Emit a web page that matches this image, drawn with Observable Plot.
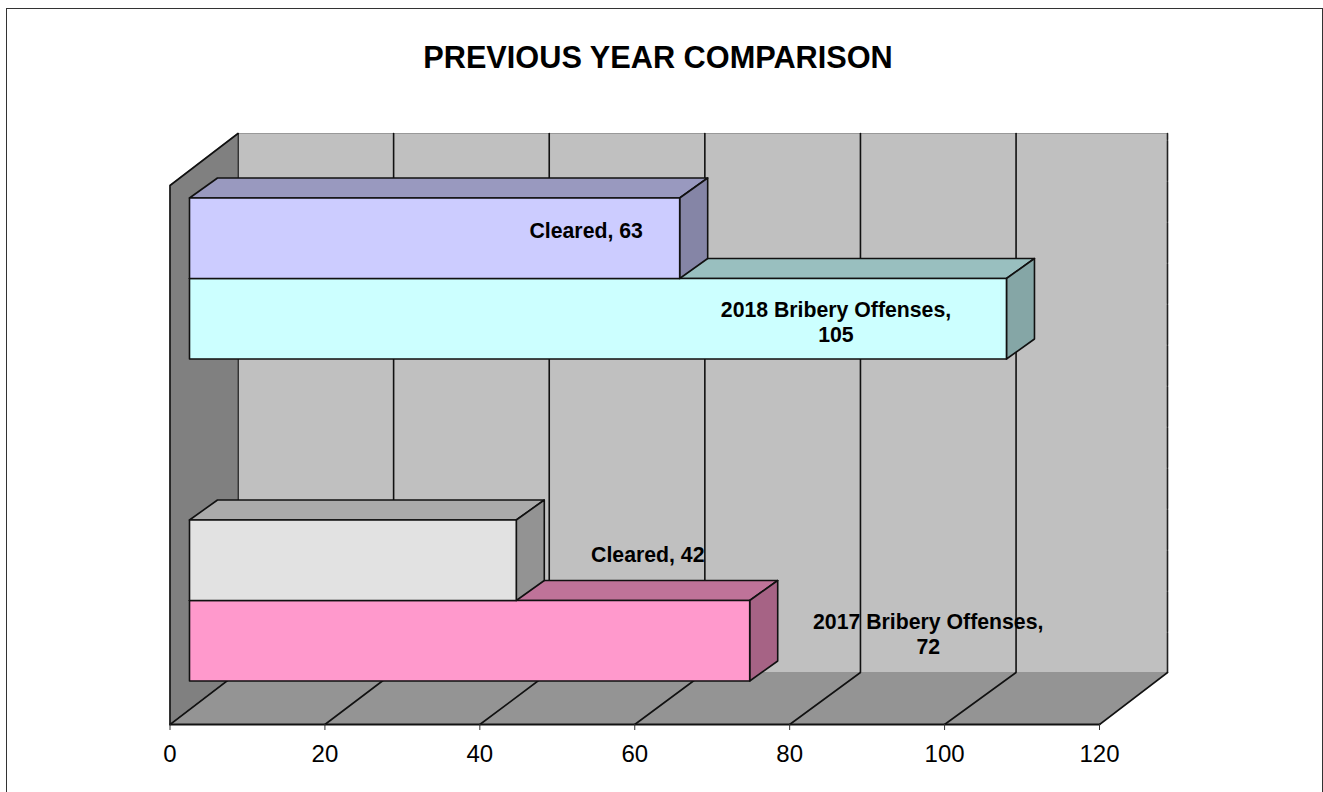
<!DOCTYPE html>
<html>
<head>
<meta charset="utf-8">
<script src="https://cdn.jsdelivr.net/npm/d3@7"></script>
<script src="https://cdn.jsdelivr.net/npm/@observablehq/plot@0.6"></script>
<style>
html,body{margin:0;padding:0;background:#fff;overflow:hidden;width:1323px;height:792px}
#frame{position:absolute;left:6px;top:8px;width:1317px;height:800px;border:1px solid #333;box-sizing:border-box;border-bottom:none}
#chart{position:absolute;left:0;top:0}
</style>
</head>
<body>
<div id="frame"></div>
<div id="chart"></div>
<script>
// ---- data ----
const years = ["2017", "2018"];
const offenses = [72, 105];
const cleared = [42, 63];
const ticks = [0, 20, 40, 60, 80, 100, 120];
const title = "PREVIOUS YEAR COMPARISON";

// ---- layout (x in value units, y in px above the front floor edge) ----
const PX = 929.5 / 120;              // px per value unit
const wallDx = 68 / PX, wallDy = 52; // depth of the box
const wallH = 539;
const barDx = 28 / PX, barDy = 20;   // depth of a bar
const barStart = 20 / PX;            // gap from the left wall
const stretch = 1.0045;              // depth-plane unit stretch
const groupBase = [43, 365], barH = 80.5;
const barX = v => barStart + v * stretch;
const gridX = v => wallDx + v * stretch;
const labelDx = {offenses: [178, -171], cleared: [131, -94]};
const labelDy = {offenses: [32.5, 42.5], cleared: [33, 31]};

const palette = {
  wall: "#c0c0c0", side: "#808080", floor: "#949494", ink: "#111",
  offenses: [{front: "#ff99cc", top: "#bf7399", side: "#a66385"},
             {front: "#ccffff", top: "#99bfbf", side: "#85a6a6"}],
  cleared: [{front: "#e2e2e2", top: "#aaaaaa", side: "#939393"},
            {front: "#ccccff", top: "#9999bf", side: "#8585a6"}]
};

// ---- helpers ----
const quad = (a, b, c, d, fill, stroke = "none", strokeWidth = 1.6) =>
  Plot.area([{x1: a[0], y1: a[1], x2: d[0], y2: d[1]}, {x1: b[0], y1: b[1], x2: c[0], y2: c[1]}],
            {x1: "x1", y1: "y1", x2: "x2", y2: "y2", fill, stroke, strokeWidth, strokeLinejoin: "round"});
const seg = (pts, stroke = palette.ink, strokeWidth = 1.6, extra = {}) =>
  Plot.line(pts, {x: d => d[0], y: d => d[1], stroke, strokeWidth, ...extra});

function bar(v, y0, c) {
  const x0 = barX(0), x1 = barX(v), y1 = y0 + barH;
  return [
    quad([x0, y1], [x0 + barDx, y1 + barDy], [x1 + barDx, y1 + barDy], [x1, y1], c.top, palette.ink),
    quad([x1, y0], [x1 + barDx, y0 + barDy], [x1 + barDx, y1 + barDy], [x1, y1], c.side, palette.ink),
    quad([x0, y0], [x0, y1], [x1, y1], [x1, y0], c.front, palette.ink)
  ];
}

const labels = years.flatMap((yr, i) => [
  {text: `${yr} Bribery Offenses,\n${offenses[i]}`,
   x: barX(offenses[i]) + labelDx.offenses[i] / PX, y: groupBase[i] + barH - labelDy.offenses[i]},
  {text: `Cleared, ${cleared[i]}`,
   x: barX(cleared[i]) + labelDx.cleared[i] / PX, y: groupBase[i] + 2 * barH - labelDy.cleared[i]}
]);

const marks = [
  // back wall
  quad([wallDx, wallDy], [wallDx, wallH + wallDy], [120 + wallDx, wallH + wallDy], [120 + wallDx, wallDy], palette.wall),
  seg([[wallDx, wallH + wallDy], [120 + wallDx, wallH + wallDy]], "#999", 1),
  seg([[120 + wallDx, wallDy], [120 + wallDx, wallH + wallDy]], "#222", 1.6, {strokeDasharray: "40 1"}),
  // grid on back wall
  ...ticks.slice(0, -1).map(t => seg([[gridX(t), wallDy], [gridX(t), wallH + wallDy]])),
  // left wall
  quad([0, 0], [0, wallH], [wallDx, wallH + wallDy], [wallDx, wallDy], palette.side),
  seg([[0, 0], [0, wallH], [wallDx, wallH + wallDy]]),
  // floor
  quad([0, 0], [wallDx, wallDy], [120 + wallDx, wallDy], [120, 0], palette.floor),
  ...ticks.map(t => seg([[t, 0], [t === 120 ? 120 + wallDx : gridX(t), wallDy]])),
  seg([[0, 0], [120, 0]], palette.ink, 2),
  // bars
  ...years.flatMap((yr, i) => [
    ...bar(offenses[i], groupBase[i], palette.offenses[i]),
    ...bar(cleared[i], groupBase[i] + barH, palette.cleared[i])
  ]),
  // data labels
  Plot.text(labels, {x: "x", y: "y", text: "text", fontSize: 21.25, fontWeight: "bold", fill: "#000", lineHeight: 1.18}),
  // axis
  Plot.axisX(ticks, {anchor: "bottom", tickSize: 6, tickPadding: 14.5, fontSize: 24, label: null, stroke: "#333", fill: "#000", tickFormat: d => d}),
  // title
  Plot.text([title], {x: [(658 - 170) / PX], y: [666.5], text: d => d, fontSize: 30.7, fontWeight: "bold", fill: "#000"})
];

const chart = Plot.plot({
  width: 1323, height: 792,
  marginTop: 133, marginBottom: 68, marginLeft: 170, marginRight: 224,
  x: {domain: [0, 120], range: [169.5, 1099]},
  y: {domain: [0, wallH + wallDy], range: [724, 133], axis: null},
  style: {background: "none", fontFamily: "'Liberation Sans', Arial, sans-serif", overflow: "visible"},
  marks
});
document.getElementById("chart").appendChild(chart);
</script>
</body>
</html>
